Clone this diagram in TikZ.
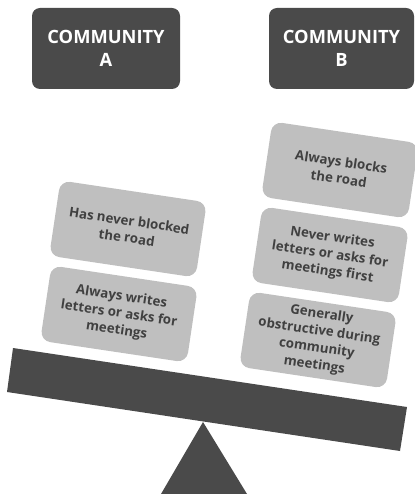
\documentclass[tikz,border=0pt]{standalone}
\usepackage{fontspec}
\setmainfont{Open Sans}
\definecolor{beamgray}{HTML}{4A4A4A}
\definecolor{cardgray}{HTML}{BFBFBF}
\definecolor{cardtext}{HTML}{404040}
\tikzset{
  header/.style={fill=beamgray, rounded corners=8pt, minimum width=148pt,
    minimum height=81pt, inner sep=0pt, text=white, align=center,
    font=\fontsize{18.3}{22.5}\selectfont\bfseries},
  card/.style={fill=cardgray, rounded corners=10pt, minimum width=148pt,
    minimum height=76pt, inner sep=0pt, text=cardtext, align=center,
    rotate=-8.5, font=\fontsize{13.3}{17}\selectfont\bfseries},
}
\begin{document}
\begin{tikzpicture}[x=1pt,y=-1pt]
    \useasboundingbox (0,0) rectangle (414,494);

    % the two communities
    \node[header] (commA) at (106,48.5) {COMMUNITY\\A};
    \node[header, minimum width=145pt] (commB) at (341.5,48.5) {COMMUNITY\\B};

    % seesaw
    \fill[beamgray] (13,348) -- (407,407) -- (400,451) -- (7,392) -- cycle;
    \fill[beamgray] (203,422) -- (247,494) -- (161,494) -- cycle;

    % left pan
    \node[card] (leftTop) at (128,229) {Has never blocked\\the road};
    \node[card] (leftLow) at (119,314) {Always writes\\letters or asks for\\meetings};

    % right pan
    \node[card] (rightTop) at (340,170) {Always blocks\\the road};
    \node[card] (rightMid) at (330,255) {Never writes\\letters or asks for\\meetings first};
    \node[card] (rightLow) at (318,340) {Generally\\obstructive during\\community\\meetings};
\end{tikzpicture}
\end{document}
